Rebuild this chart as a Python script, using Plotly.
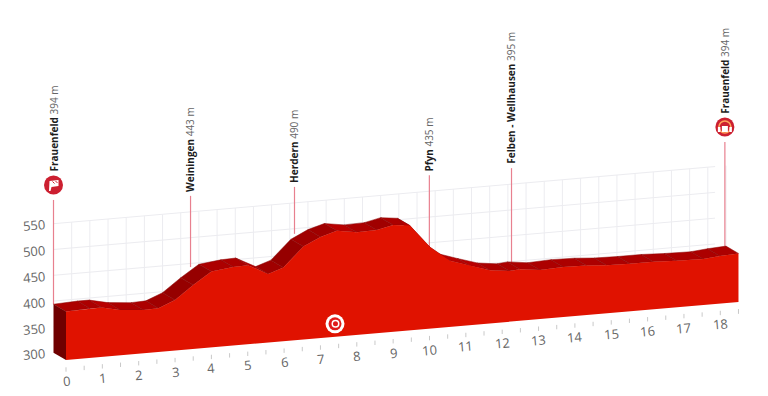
import plotly.graph_objects as go

# ---------- data ----------
profile_km = [0, 0.66, 0.98, 1.49, 2.13, 2.54, 3.0, 3.5, 4.0, 4.6, 5.01, 5.56, 5.98, 6.53, 7.0, 7.45,
              8.0, 8.55, 9.0, 9.46, 10.01, 10.56, 11.11, 11.66, 12.2, 12.49, 13.04, 13.68, 14.32,
              14.87, 15.51, 16.16, 16.8, 17.53, 17.99, 18.5]
profile_elev = [394, 396, 396, 388, 384, 385, 398, 424, 447, 452, 453, 433, 443, 480, 496, 505,
                499, 500, 507, 503, 458, 428, 415, 403, 398, 400, 395, 397, 396,
                393, 392, 392, 390, 389, 392, 394]
place_names = ["Frauenfeld", "Weiningen", "Herdern", "Pfyn", "Felben - Wellhausen", "Frauenfeld"]
place_km = [0, 3.77, 6.63, 10.34, 12.6, 18.47]
place_elev = [394, 443, 490, 435, 395, 394]
place_label = ["394 m", "443 m", "490 m", "435 m", "395 m", "394 m"]
elev_ticks = [300, 350, 400, 450, 500, 550]
km_ticks = list(range(0, 19))
km_minor = [i * 0.5 for i in range(0, 38)]
timer_km = 7.4
timer_elev = 325

# ---------- oblique projection through the axes ----------
W, H = 768, 396
PX_KM, PX_M = 36.35, 0.516
X_ORIGIN, Y_ORIGIN = 66, 360
SKEW = 3.14 / PX_M          # metres of apparent rise per km
DEPTH_KM = 12.5 / PX_KM
DEPTH_M = 7.3 / PX_M
xr = [-X_ORIGIN / PX_KM, (W - X_ORIGIN) / PX_KM]
yr = [300 - (H - Y_ORIGIN) / PX_M, 300 + Y_ORIGIN / PX_M]


def px(km, depth=0):
    return km - depth * DEPTH_KM


def py(km, elev, depth=0):
    return elev + SKEW * km + depth * DEPTH_M


def poly(xs, ys, color, line=None):
    return go.Scatter(x=xs, y=ys, mode="lines", fill="toself", fillcolor=color,
                      line=dict(width=0.5 if line else 0, color=line or color), hoverinfo="skip")


def lines(segs, color, width=1):
    xs, ys = [], []
    for s in segs:
        xs += [s[0][0], s[1][0], None]
        ys += [s[0][1], s[1][1], None]
    return go.Scatter(x=xs, y=ys, mode="lines", line=dict(color=color, width=width), hoverinfo="skip")


def icon(cx, cy, pts, color="white"):
    return poly([cx + a / PX_KM for a, b in pts], [cy - b / PX_M for a, b in pts], color)


def dot(x, y, size, color):
    return go.Scatter(x=[x], y=[y], mode="markers", hoverinfo="skip",
                      marker=dict(size=size, color=color, line=dict(width=0)))


fig = go.Figure()
GRID = "#ececf0"

# back wall grid
fig.add_trace(lines([((px(0, 1), py(0, e, 1)), (px(18.2, 1), py(18.2, e, 1))) for e in elev_ticks[1:]], GRID))
fig.add_trace(lines([((px(k, 1), py(k, 300, 1)), (px(k, 1), py(k, elev_ticks[-1], 1)))
                     for k in km_minor[1:]], GRID))

# poles
POLE = "#e8808f"
pole_top = [596, 581, 581, 581, 581, 596]
for k, e, t in zip(place_km, place_elev, pole_top):
    fig.add_trace(lines([((px(k, 1), py(k, e, 1)), (px(k, 1), py(k, t, 1)))], POLE, 1.2))

# upper surface, one slat per profile segment
for i in range(len(profile_km) - 1):
    k0, k1, e0, e1 = profile_km[i], profile_km[i + 1], profile_elev[i], profile_elev[i + 1]
    grade = (e1 - e0) / (k1 - k0)
    c = "#960000" if grade > 35 else ("#a00000" if grade > 10 else ("#b80000" if grade < -10 else "#ac0000"))
    fig.add_trace(poly([px(k0), px(k1), px(k1, 1), px(k0, 1), px(k0)],
                       [py(k0, e0), py(k1, e1), py(k1, e1, 1), py(k0, e0, 1), py(k0, e0)], c, "#8a0808"))

# left side face
fig.add_trace(poly([px(0), px(0, 1), px(0, 1), px(0), px(0)],
                   [py(0, 300), py(0, 300, 1), py(0, profile_elev[0], 1), py(0, profile_elev[0]), py(0, 300)],
                   "#6f0000"))

# front face
fx = [px(k) for k in profile_km]
fy = [py(k, e) for k, e in zip(profile_km, profile_elev)]
fig.add_trace(poly(fx + [px(profile_km[-1]), px(0), fx[0]],
                   fy + [py(profile_km[-1], 300), py(0, 300), fy[0]], "#e01200"))

# km ticks
t0, t1 = 300 - 7.3 / PX_M, 300 - 11.7 / PX_M
fig.add_trace(lines([((px(k), py(k, t0)), (px(k), py(k, t1))) for k in km_minor + [18.5]], "#c9c9c9", 1))

# timer icon
tx, ty = px(timer_km), py(timer_km, timer_elev)
fig.add_trace(dot(tx, ty, 19, "white"))
fig.add_trace(dot(tx, ty, 13, "#e01b1b"))
fig.add_trace(dot(tx + 0.5 / PX_KM, ty, 8, "white"))
fig.add_trace(dot(tx + 0.5 / PX_KM, ty, 5, "#e01b1b"))

# start icon: flag
sx, sy = px(place_km[0], 1), py(place_km[0], pole_top[0] + 29, 1)
fig.add_trace(dot(sx, sy, 19, "#cc1f30"))
fig.add_trace(icon(sx, sy, [(-4, -4), (5, -5), (5, 1), (-2, 2), (-3, 6), (-4.5, 6), (-4, -4)]))
fig.add_trace(lines([((sx - 1 / PX_KM, sy + 3.5 / PX_M), (sx + 1 / PX_KM, sy + 1.5 / PX_M)),
                     ((sx + 2 / PX_KM, sy + 4 / PX_M), (sx + 4 / PX_KM, sy + 2 / PX_M))], "#cc1f30", 1))

# finish icon
ex, ey = px(place_km[-1], 1), py(place_km[-1], pole_top[-1] + 29, 1)
fig.add_trace(dot(ex, ey, 19, "#cc1f30"))
fig.add_trace(go.Scatter(x=[ex], y=[ey], mode="markers", hoverinfo="skip",
                         marker=dict(symbol="circle-open", size=12, line=dict(color="white", width=1.6))))
fig.add_trace(icon(ex, ey, [(-3, -1), (3, -1), (3, 5), (-3, 5), (-3, -1)]))
fig.add_trace(icon(ex, ey, [(-7, 0), (-4.5, 0), (-4.5, 5), (-7, 5), (-7, 0)]))
fig.add_trace(icon(ex, ey, [(4.5, 0), (7, 0), (7, 5), (4.5, 5), (4.5, 0)]))

# labels
ann = []
TICK_FONT = dict(family="Open Sans, sans-serif", size=13, color="#666666")
for e in elev_ticks:
    ann.append(dict(x=px(0, 1), y=py(0, e, 1), text=str(e), showarrow=False, xshift=-19.5, yshift=-1.7,
                    textangle=-5, font=TICK_FONT))
for k in km_ticks:
    ann.append(dict(x=px(k), y=py(k, 300), text=str(k), showarrow=False, yshift=-21,
                    textangle=-5, font=TICK_FONT))
for name, k, lab, t, gap in zip(place_names, place_km, place_label, pole_top, [28, 4, 4, 4, 4, 28]):
    ann.append(dict(x=px(k, 1), y=py(k, t, 1),
                    text=f'<b>{name}</b> <span style="color:#666666">{lab}</span>',
                    showarrow=False, textangle=-90, xanchor="center", yanchor="bottom", yshift=gap - 2,
                    font=dict(family="Open Sans, sans-serif", size=10, color="#1c1c1c")))

fig.update_layout(width=W, height=H, margin=dict(l=0, r=0, t=0, b=0), showlegend=False,
                  paper_bgcolor="white", plot_bgcolor="white", annotations=ann,
                  xaxis=dict(range=xr, visible=False, fixedrange=True),
                  yaxis=dict(range=yr, visible=False, fixedrange=True))
fig.write_html("out.html", config=dict(displayModeBar=False),
               post_script="document.body.style.margin='0';document.documentElement.style.overflow='hidden';")
